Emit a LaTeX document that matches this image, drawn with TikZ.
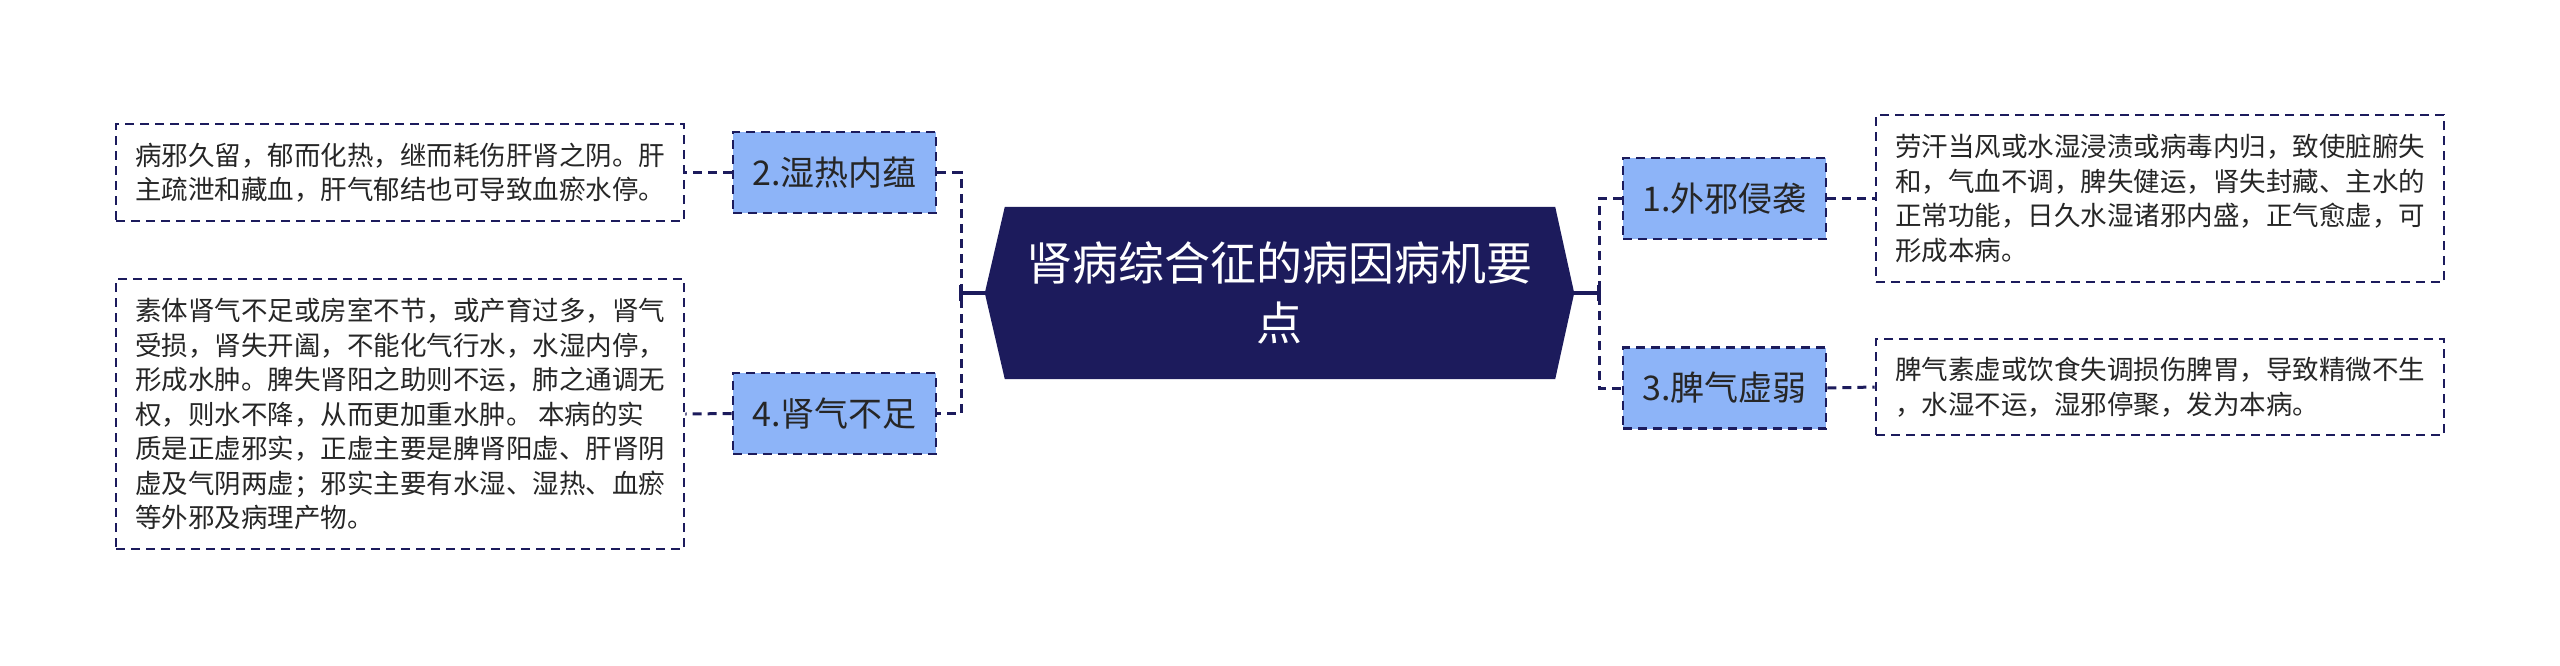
\documentclass[tikz,border=0pt]{standalone}
\usepackage{fontspec}
\newfontfamily\cjk{Noto Sans CJK SC}
\usetikzlibrary{backgrounds}
\definecolor{navy}{HTML}{1C1B5C}
\definecolor{lblue}{HTML}{8DB4F8}
\definecolor{txt}{HTML}{262626}
\begin{document}
\begin{tikzpicture}[x=1pt,y=-1pt,
  dsh/.style={dash pattern=on 9pt off 6pt},
  tbox/.style={draw=navy, line width=2.6pt, dsh, fill=white, text=txt, align=left, inner sep=0pt,
    font=\cjk\fontsize{26.5}{34.5}\selectfont, minimum width=568pt},
  lbox/.style={draw=navy, line width=2.6pt, dsh, fill=lblue, text=txt, inner sep=0pt,
    minimum width=203pt, minimum height=81pt, font=\cjk\fontsize{34}{40}\selectfont},
  rootnode/.style={inner sep=0pt, minimum width=589pt, minimum height=172pt, text=white,
    align=center, font=\cjk\fontsize{46}{60}\selectfont},
  conn/.style={draw=navy, line width=3pt, dsh},
  sconn/.style={draw=navy, line width=3.2pt}]
\useasboundingbox (0,0) rectangle (2560,665);

% root
\node[rootnode] (root) at (1279.5,293) {肾病综合征的病因病机要\\点};
\begin{scope}[on background layer]
\fill[white] (0,0) rectangle (2560,665);
\fill[navy] (root.west) -- ([xshift=20pt]root.north west) -- ([xshift=-19pt]root.north east)
  -- (root.east) -- ([xshift=-19pt]root.south east) -- ([xshift=20pt]root.south west) -- cycle;
\end{scope}

% junctions
\coordinate (jl) at (961,293);
\coordinate (jr) at (1599,293);

% label boxes
\node[lbox] (b2) at (834.5,172.5) {2.湿热内蕴};
\node[lbox] (b4) at (834.5,413.5) {4.肾气不足};
\node[lbox] (b1) at (1724.5,198.5) {1.外邪侵袭};
\node[lbox] (b3) at (1724.5,388) {3.脾气虚弱};

% text boxes
\node[tbox, minimum height=97pt] (t2) at (400,172.5) {病邪久留，郁而化热，继而耗伤肝肾之阴。肝\\主疏泄和藏血，肝气郁结也可导致血瘀水停。};
\node[tbox, minimum height=270pt] (t4) at (400,414) {素体肾气不足或房室不节，或产育过多，肾气\\受损，肾失开阖，不能化气行水，水湿内停，\\形成水肿。脾失肾阳之助则不运，肺之通调无\\权，则水不降，从而更加重水肿。 本病的实\\质是正虚邪实，正虚主要是脾肾阳虚、肝肾阴\\虚及气阴两虚；邪实主要有水湿、湿热、血瘀\\等外邪及病理产物。};
\node[tbox, minimum height=167pt] (t1) at (2160,198.5) {劳汗当风或水湿浸渍或病毒内归，致使脏腑失\\和，气血不调，脾失健运，肾失封藏、主水的\\正常功能，日久水湿诸邪内盛，正气愈虚，可\\形成本病。};
\node[tbox, minimum height=96pt] (t3) at (2160,387) {脾气素虚或饮食失调损伤脾胃，导致精微不生\\，水湿不运，湿邪停聚，发为本病。};

% connectors root -> labels
\draw[sconn] (root.west) -- (jl);
\draw[sconn] ([yshift=-8pt]jl) -- ([yshift=8pt]jl);
\draw[conn] (b2.east) -| (jl) |- (b4.east);
\draw[sconn] (root.east) -- (jr);
\draw[sconn] ([yshift=-8pt]jr) -- ([yshift=8pt]jr);
\draw[conn] (b1.west) -| (jr) |- (b3.west);

% connectors labels -> texts
\draw[conn] (b2.west) -- (t2.east);
\draw[conn] (b4.west) -- (t4.east);
\draw[conn] (b1.east) -- (t1.west);
\draw[conn] (b3.east) -- (t3.west);
\end{tikzpicture}
\end{document}
